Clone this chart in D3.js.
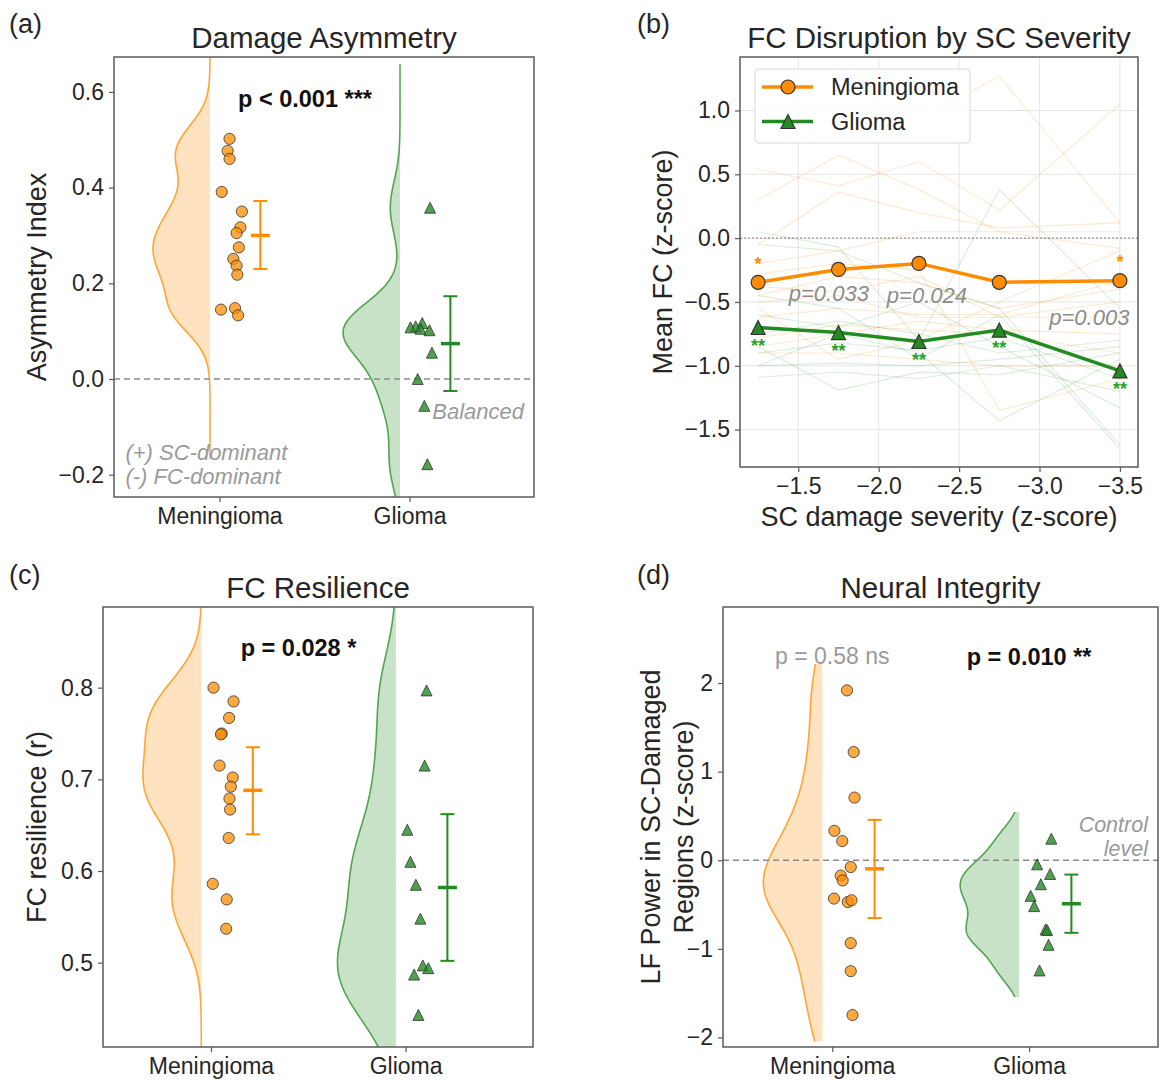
<!DOCTYPE html>
<html><head><meta charset="utf-8">
<script src="https://cdn.jsdelivr.net/npm/d3@7"></script>
<style>
body{margin:0;background:#fff;}
svg text{font-family:"Liberation Sans",Arial,Helvetica,sans-serif;}
</style></head><body>
<svg id="chart" width="1161" height="1080"></svg>
<script>
// ================= DATA =================
const categories = ["Meningioma", "Glioma"];

// (a) Damage Asymmetry
const asymMeningioma = [0.502,0.477,0.460,0.391,0.350,0.317,0.305,0.275,0.251,0.237,0.218,0.145,0.148,0.133];
const asymMeningiomaJitter = [0.053,0.043,0.053,0.012,0.118,0.110,0.090,0.102,0.073,0.090,0.094,0.008,0.082,0.098];
const asymGlioma = [0.358,0.117,0.110,0.108,0.105,0.102,0.055,0.000,-0.056,-0.178];
const asymGliomaJitter = [0.108,0.067,0.032,0.005,0.058,0.105,0.118,0.043,0.078,0.094];
const asymMean = [0.300, 0.074];
const asymLow  = [0.230, -0.025];
const asymHigh = [0.372, 0.173];
const asymTicks = [-0.2, 0.0, 0.2, 0.4, 0.6];

// (b) FC Disruption by SC Severity
const severity = [-1.25, -1.75, -2.25, -2.75, -3.5];
const severityTicks = [-1.5, -2.0, -2.5, -3.0, -3.5];
const fcTicks = [-1.5, -1.0, -0.5, 0.0, 0.5, 1.0];
const meningiomaMeanFC = [-0.346, -0.245, -0.198, -0.346, -0.333];
const gliomaMeanFC = [-0.700, -0.740, -0.810, -0.720, -1.040];
const meningiomaSig = ["*", "", "", "", "*"];
const gliomaSig = ["**", "**", "**", "**", "**"];
const meningiomaSubjects = [
  [0.30, 0.65, 0.38, 0.05, 0.05],
  [0.54, 0.41, 0.60, 0.22, 1.05],
  [0.74, 0.83, 0.92, 1.27, 0.12],
  [-0.05, 0.36, 0.20, 0.08, 0.12],
  [-0.20, -0.10, 0.05, 0.05, -0.08],
  [-0.45, -0.30, -0.35, -0.55, -0.40],
  [-0.50, -0.45, -0.62, -0.62, -0.50],
  [-0.62, -0.55, -0.60, -0.60, -0.33],
  [-0.78, -0.68, -0.72, -0.75, -0.90],
  [-0.90, -0.90, -0.95, -1.00, -1.00],
  [-0.38, -0.42, -0.30, -0.62, -0.62],
  [-0.28, -0.20, -0.25, -1.35, -1.10],
  [-0.85, -0.75, -0.65, -0.72, -0.75],
  [-0.55, -0.95, -0.80, -0.50, -0.10]
];
const gliomaSubjects = [
  [0.05, -0.07, -0.80, 0.38, -0.55],
  [-0.05, -0.10, -0.35, -0.55, -1.62],
  [-0.45, -0.55, -0.95, -0.60, -1.65],
  [-0.60, -0.70, -0.50, -0.85, -1.33],
  [-0.75, -0.65, -0.75, -0.90, -0.80],
  [-0.90, -0.82, -0.88, -0.78, -1.10],
  [-1.00, -0.98, -1.00, -0.95, -0.85],
  [-1.09, -1.05, -1.10, -1.00, -1.20],
  [-0.85, -1.19, -1.05, -1.07, -0.90],
  [-1.00, -0.75, -0.90, -1.43, -0.95]
];
const pairLabels = ["p=0.033", "p=0.024", "p=0.003"];

// (c) FC Resilience
const resMeningioma = [0.800,0.785,0.767,0.750,0.749,0.715,0.702,0.692,0.679,0.667,0.636,0.586,0.569,0.537];
const resMeningiomaJitter = [0.013,0.116,0.093,0.055,0.051,0.044,0.112,0.102,0.095,0.098,0.091,0.009,0.081,0.078];
const resGlioma = [0.797,0.715,0.645,0.610,0.585,0.548,0.497,0.494,0.487,0.443];
const resGliomaJitter = [0.108,0.098,0.009,0.025,0.053,0.076,0.089,0.117,0.044,0.066];
const resMean = [0.688, 0.582];
const resLow  = [0.640, 0.502];
const resHigh = [0.735, 0.662];
const resTicks = [0.5, 0.6, 0.7, 0.8];

// (d) Neural Integrity
const lfMeningioma = [1.917,1.221,0.707,0.332,0.216,-0.077,-0.174,-0.228,-0.433,-0.472,-0.452,-0.935,-1.252,-1.747];
const lfMeningiomaJitter = [0.075,0.109,0.113,0.011,0.051,0.094,0.043,0.053,0.009,0.079,0.098,0.094,0.094,0.103];
const lfGlioma = [0.243,-0.046,-0.155,-0.271,-0.402,-0.518,-0.781,-0.788,-0.955,-1.244];
const lfGliomaJitter = [0.113,0.041,0.107,0.060,0.008,0.026,0.084,0.092,0.099,0.053];
const lfMean = [-0.097, -0.491];
const lfLow  = [-0.653, -0.819];
const lfHigh = [0.456, -0.162];
const lfTicks = [-2, -1, 0, 1, 2];

// ================= STYLE / LAYOUT =================
const FONT = '"Liberation Sans", Arial, Helvetica, sans-serif';
const ORANGE = "#ff8c00", GREEN = "#228b22";
const TXT = "#262626", FRAME = "#5a5a5a";
const CUT = 0.3, BW_FACTOR = 0.4, VIOLIN_OFFSET = -0.05, VIOLIN_HALF = 0.3, ERR_OFFSET = 0.215;
const catDomain = [-0.555, 1.655];

const svg = d3.select("#chart");
const defs = svg.append("defs");

function kdeCurve(values) {
  const sd = d3.deviation(values);
  const bw = sd * BW_FACTOR;
  const lo = d3.min(values) - CUT, hi = d3.max(values) + CUT;
  const ys = d3.range(0, 301).map(i => lo + (hi - lo) * i / 300);
  const dens = ys.map(yv => d3.mean(values, v => Math.exp(-0.5 * ((yv - v) / bw) ** 2)));
  const mx = d3.max(dens);
  return ys.map((yv, i) => ({y: yv, w: dens[i] / mx * VIOLIN_HALF}));
}

function triPath(s) {
  const h = s / 2;
  return `M0,${-h}L${-h},${h}L${h},${h}Z`;
}

function styleAxis(sel) {
  sel.select(".domain").remove();
  sel.selectAll(".tick line").attr("stroke", FRAME).attr("stroke-width", 1.2);
  sel.selectAll(".tick text").attr("font-size", 23).attr("fill", TXT).attr("font-family", FONT);
}

function addText(g, t, x, y, o = {}) {
  return g.append("text").attr("x", x).attr("y", y).attr("dy", o.dy || "0.35em")
    .attr("text-anchor", o.anchor || "middle")
    .attr("font-size", o.size || 23).attr("font-weight", o.weight || "normal")
    .attr("font-style", o.italic ? "italic" : "normal")
    .attr("fill", o.color || TXT).text(t);
}

function frameAndLabels(g, box, o) {
  g.append("rect").attr("x", box.left).attr("y", box.top)
    .attr("width", box.right - box.left).attr("height", box.bottom - box.top)
    .attr("fill", "none").attr("stroke", FRAME).attr("stroke-width", 1.5);
  addText(g, o.title, (box.left + box.right) / 2, o.titleY, {size: 29.5, dy: "0"});
  addText(g, o.panel, o.panelX, o.panelY, {size: 27, anchor: "start", dy: "0"});
}

function catPanel(o) {
  const box = o.box;
  const x = d3.scaleLinear().domain(catDomain).range([box.left, box.right]);
  const y = d3.scaleLinear().domain(o.ydomain).range([box.bottom, box.top]);
  const g = svg.append("g");
  const cid = "clip-" + o.id;
  defs.append("clipPath").attr("id", cid).append("rect")
    .attr("x", box.left).attr("y", box.top)
    .attr("width", box.right - box.left).attr("height", box.bottom - box.top);
  const plot = g.append("g").attr("clip-path", `url(#${cid})`);

  o.groups.forEach((grp, i) => {
    const curve = kdeCurve(grp.values);
    const edge = i + VIOLIN_OFFSET;
    plot.append("path").datum(curve)
      .attr("d", d3.area().y(d => y(d.y)).x0(x(edge)).x1(d => x(edge - d.w)))
      .attr("fill", grp.color).attr("fill-opacity", 0.25);
    plot.append("path").datum(curve)
      .attr("d", d3.line().y(d => y(d.y)).x(d => x(edge - d.w)))
      .attr("fill", "none").attr("stroke", grp.color).attr("stroke-opacity", 0.75).attr("stroke-width", 1.6);
  });

  if (o.zeroLine) {
    plot.append("line").attr("x1", box.left).attr("x2", box.right)
      .attr("y1", y(0)).attr("y2", y(0))
      .attr("stroke", "#8a8a8a").attr("stroke-width", 1.5).attr("stroke-dasharray", "6,4");
  }

  o.groups.forEach((grp, i) => {
    const pts = grp.values.map((v, k) => ({x: i + grp.jitter[k], y: v}));
    if (grp.shape === "circle") {
      plot.selectAll(null).data(pts).join("circle")
        .attr("cx", d => x(d.x)).attr("cy", d => y(d.y)).attr("r", 5.6)
        .attr("fill", grp.color).attr("fill-opacity", 0.75)
        .attr("stroke", "#333").attr("stroke-opacity", 0.8).attr("stroke-width", 1);
    } else {
      plot.selectAll(null).data(pts).join("path")
        .attr("d", triPath(11))
        .attr("transform", d => `translate(${x(d.x)},${y(d.y)})`)
        .attr("fill", grp.color).attr("fill-opacity", 0.8)
        .attr("stroke", "#333").attr("stroke-opacity", 0.8).attr("stroke-width", 1);
    }
    const ex = x(i + ERR_OFFSET);
    const eg = plot.append("g").attr("stroke", grp.color).attr("fill", "none");
    eg.append("line").attr("x1", ex).attr("x2", ex).attr("y1", y(o.low[i])).attr("y2", y(o.high[i])).attr("stroke-width", 2);
    [o.low[i], o.high[i]].forEach(v => eg.append("line").attr("x1", ex - 7).attr("x2", ex + 7).attr("y1", y(v)).attr("y2", y(v)).attr("stroke-width", 2));
    eg.append("line").attr("x1", ex - 9.5).attr("x2", ex + 9.5).attr("y1", y(o.mean[i])).attr("y2", y(o.mean[i])).attr("stroke-width", 3.5);
  });

  (o.notes || []).forEach(n => {
    (Array.isArray(n.text) ? n.text : [n.text]).forEach((t, k) => {
      addText(g, t, x(n.x), y(n.y) + k * (n.lineGap || 0), n.opts);
    });
  });

  const ya = g.append("g").attr("transform", `translate(${box.left},0)`)
    .call(d3.axisLeft(y).tickValues(o.yticks).tickFormat(o.yfmt).tickSize(5).tickPadding(5));
  styleAxis(ya);
  const xa = g.append("g").attr("transform", `translate(0,${box.bottom})`)
    .call(d3.axisBottom(x).tickValues([0, 1]).tickFormat(i => categories[i]).tickSize(5).tickPadding(6));
  styleAxis(xa);

  frameAndLabels(g, box, o);
  o.ylabel.forEach((t, k) => {
    g.append("text").attr("transform", `translate(${o.ylabelX[k]},${(box.top + box.bottom) / 2}) rotate(-90)`)
      .attr("text-anchor", "middle").attr("dy", "0.35em").attr("font-size", 27).attr("fill", TXT).text(t);
  });
}

// ---------- (a) ----------
catPanel({
  id: "a", box: {left: 114, right: 534, top: 57, bottom: 497},
  ydomain: [-0.2466, 0.673], yticks: asymTicks, yfmt: d3.format(".1f"),
  groups: [
    {values: asymMeningioma, jitter: asymMeningiomaJitter, color: ORANGE, shape: "circle"},
    {values: asymGlioma, jitter: asymGliomaJitter, color: GREEN, shape: "triangle"}
  ],
  mean: asymMean, low: asymLow, high: asymHigh, zeroLine: true,
  notes: [
    {text: "p < 0.001 ***", x: 0.45, y: 0.585, opts: {weight: "bold", size: 23.5, color: "#111"}},
    {text: "Balanced", x: 1.12, y: -0.068, opts: {italic: true, size: 22, color: "#9a9a9a", anchor: "start"}},
    {text: ["(+) SC-dominant", "(-) FC-dominant"], x: -0.495, y: -0.154, lineGap: 24,
     opts: {italic: true, size: 22, color: "#9a9a9a", anchor: "start"}}
  ],
  title: "Damage Asymmetry", titleY: 48, panel: "(a)", panelX: 9, panelY: 33,
  ylabel: ["Asymmetry Index"], ylabelX: [37]
});

// ---------- (c) ----------
catPanel({
  id: "c", box: {left: 103, right: 533, top: 607, bottom: 1047},
  ydomain: [0.408, 0.888], yticks: resTicks, yfmt: d3.format(".1f"),
  groups: [
    {values: resMeningioma, jitter: resMeningiomaJitter, color: ORANGE, shape: "circle"},
    {values: resGlioma, jitter: resGliomaJitter, color: GREEN, shape: "triangle"}
  ],
  mean: resMean, low: resLow, high: resHigh, zeroLine: false,
  notes: [
    {text: "p = 0.028 *", x: 0.45, y: 0.843, opts: {weight: "bold", size: 23.5, color: "#111"}}
  ],
  title: "FC Resilience", titleY: 598, panel: "(c)", panelX: 9, panelY: 584,
  ylabel: ["FC resilience (r)"], ylabelX: [37]
});

// ---------- (d) ----------
catPanel({
  id: "d", box: {left: 723, right: 1158, top: 607, bottom: 1047},
  ydomain: [-2.108, 2.858], yticks: lfTicks, yfmt: d3.format("d"),
  groups: [
    {values: lfMeningioma, jitter: lfMeningiomaJitter, color: ORANGE, shape: "circle"},
    {values: lfGlioma, jitter: lfGliomaJitter, color: GREEN, shape: "triangle"}
  ],
  mean: lfMean, low: lfLow, high: lfHigh, zeroLine: true,
  notes: [
    {text: "p = 0.58 ns", x: 0.0, y: 2.30, opts: {size: 23, color: "#9a9a9a"}},
    {text: "p = 0.010 **", x: 1.0, y: 2.30, opts: {weight: "bold", size: 23.5, color: "#111"}},
    {text: ["Control", "level"], x: 1.604, y: 0.40, lineGap: 24, opts: {italic: true, size: 21.5, color: "#9a9a9a", anchor: "end"}}
  ],
  title: "Neural Integrity", titleY: 598, panel: "(d)", panelX: 637, panelY: 584,
  ylabel: ["LF Power in SC-Damaged", "Regions (z-score)"], ylabelX: [651, 684]
});

// ---------- (b) ----------
(function () {
  const box = {left: 740, right: 1138, top: 57, bottom: 467};
  const x = d3.scaleLinear().domain([-1.1375, -3.6125]).range([box.left, box.right]);
  const y = d3.scaleLinear().domain([-1.793, 1.419]).range([box.bottom, box.top]);
  const g = svg.append("g");
  defs.append("clipPath").attr("id", "clip-b").append("rect")
    .attr("x", box.left).attr("y", box.top).attr("width", box.right - box.left).attr("height", box.bottom - box.top);
  const plot = g.append("g").attr("clip-path", "url(#clip-b)");

  plot.selectAll(null).data(severityTicks).join("line")
    .attr("x1", d => x(d)).attr("x2", d => x(d)).attr("y1", box.top).attr("y2", box.bottom)
    .attr("stroke", "#e6e6e6").attr("stroke-width", 1);
  plot.selectAll(null).data(fcTicks).join("line")
    .attr("y1", d => y(d)).attr("y2", d => y(d)).attr("x1", box.left).attr("x2", box.right)
    .attr("stroke", "#e6e6e6").attr("stroke-width", 1);

  const line = d3.line().x((d, i) => x(severity[i])).y(d => y(d));
  plot.selectAll(null).data(meningiomaSubjects).join("path")
    .attr("d", line).attr("fill", "none").attr("stroke", ORANGE).attr("stroke-opacity", 0.18).attr("stroke-width", 1.2);
  plot.selectAll(null).data(gliomaSubjects).join("path")
    .attr("d", line).attr("fill", "none").attr("stroke", GREEN).attr("stroke-opacity", 0.15).attr("stroke-width", 1.2);

  plot.append("line").attr("x1", box.left).attr("x2", box.right).attr("y1", y(0)).attr("y2", y(0))
    .attr("stroke", "#333").attr("stroke-opacity", 0.6).attr("stroke-width", 1).attr("stroke-dasharray", "2,2");

  plot.append("path").datum(meningiomaMeanFC).attr("d", line).attr("fill", "none")
    .attr("stroke", ORANGE).attr("stroke-width", 3.5);
  plot.append("path").datum(gliomaMeanFC).attr("d", line).attr("fill", "none")
    .attr("stroke", GREEN).attr("stroke-width", 3.5);

  plot.selectAll(null).data(meningiomaMeanFC).join("circle")
    .attr("cx", (d, i) => x(severity[i])).attr("cy", d => y(d)).attr("r", 7)
    .attr("fill", ORANGE).attr("stroke", "#333").attr("stroke-width", 1.2);
  plot.selectAll(null).data(gliomaMeanFC).join("path")
    .attr("d", triPath(14))
    .attr("transform", (d, i) => `translate(${x(severity[i])},${y(d)})`)
    .attr("fill", GREEN).attr("stroke", "#333").attr("stroke-width", 1.2);

  meningiomaMeanFC.forEach((d, i) => {
    if (meningiomaSig[i]) addText(g, meningiomaSig[i], x(severity[i]), y(d) - 23 + 10.4,
      {size: 18, weight: "bold", color: ORANGE, dy: "0"});
  });
  gliomaMeanFC.forEach((d, i) => {
    if (gliomaSig[i]) addText(g, gliomaSig[i], x(severity[i]), y(d) + 14 + 10.4,
      {size: 18, weight: "bold", color: "#2ca02c", dy: "0"});
  });

  const pairPos = [[-1.69, -0.43], [-2.30, -0.445], [-3.31, -0.62]];
  pairLabels.forEach((t, i) => addText(g, t, x(pairPos[i][0]), y(pairPos[i][1]),
    {italic: true, size: 22, color: "#8c8c8c"}));

  const lg = g.append("g");
  lg.append("rect").attr("x", 755).attr("y", 69).attr("width", 215).attr("height", 74).attr("rx", 4)
    .attr("fill", "#fff").attr("fill-opacity", 0.8).attr("stroke", "#d9d9d9").attr("stroke-width", 1);
  [[ORANGE, "circle", categories[0], 87], [GREEN, "triangle", categories[1], 121.5]].forEach(([c, s, t, ly]) => {
    lg.append("line").attr("x1", 762).attr("x2", 813).attr("y1", ly).attr("y2", ly).attr("stroke", c).attr("stroke-width", 3.5);
    if (s === "circle") lg.append("circle").attr("cx", 788).attr("cy", ly).attr("r", 7).attr("fill", c).attr("stroke", "#333").attr("stroke-width", 1.2);
    else lg.append("path").attr("d", triPath(14)).attr("transform", `translate(788,${ly})`).attr("fill", c).attr("stroke", "#333").attr("stroke-width", 1.2);
    addText(lg, t, 831, ly, {anchor: "start", size: 23.5});
  });

  const ya = g.append("g").attr("transform", `translate(${box.left},0)`)
    .call(d3.axisLeft(y).tickValues(fcTicks).tickFormat(d3.format(".1f")).tickSize(5).tickPadding(5));
  styleAxis(ya);
  const xa = g.append("g").attr("transform", `translate(0,${box.bottom})`)
    .call(d3.axisBottom(x).tickValues(severityTicks).tickFormat(d3.format(".1f")).tickSize(5).tickPadding(6));
  styleAxis(xa);

  frameAndLabels(g, box, {title: "FC Disruption by SC Severity", titleY: 48, panel: "(b)", panelX: 637, panelY: 33});
  g.append("text").attr("transform", `translate(663,${(box.top + box.bottom) / 2}) rotate(-90)`)
    .attr("text-anchor", "middle").attr("dy", "0.35em").attr("font-size", 27).attr("fill", TXT).text("Mean FC (z-score)");
  addText(g, "SC damage severity (z-score)", (box.left + box.right) / 2, 517, {size: 27});
})();
</script>
</body></html>
